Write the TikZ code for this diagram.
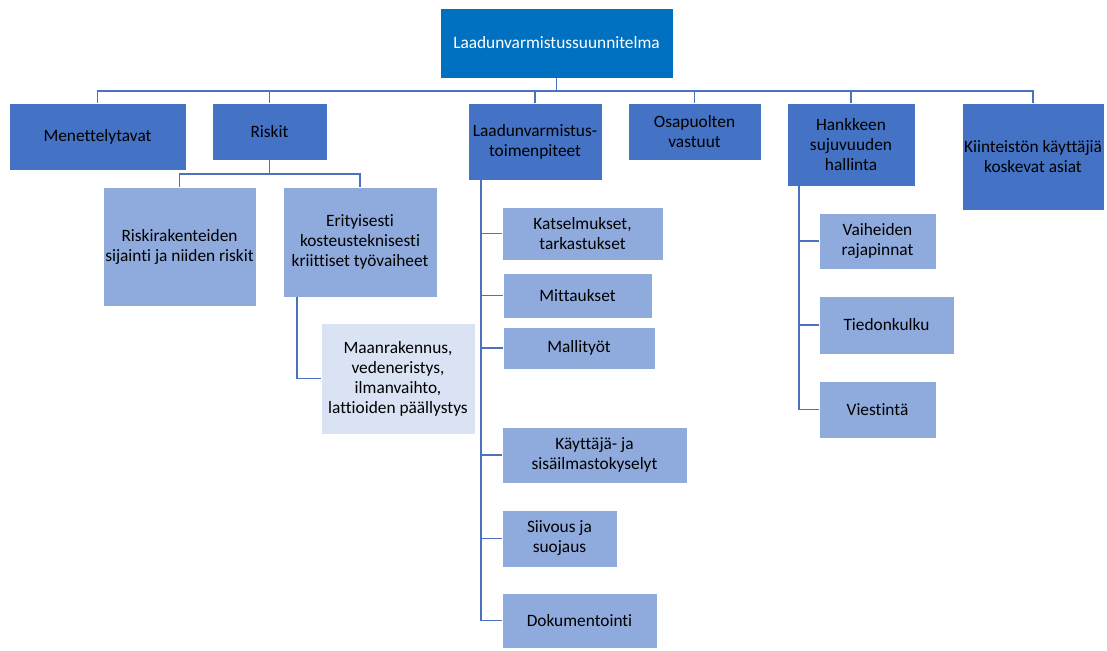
\documentclass[tikz,border=0pt]{standalone}
\usepackage{fontspec}
\setmainfont[Ligatures=NoCommon]{Carlito}
\usetikzlibrary{calc}
\definecolor{TopBlue}{HTML}{0070C0}
\definecolor{MainBlue}{HTML}{4472C4}
\definecolor{SubBlue}{HTML}{8FAADC}
\definecolor{PaleBlue}{HTML}{DAE3F3}
\definecolor{LineBlue}{HTML}{4A72BE}
\tikzset{
  card/.style={
    draw=white, line width=0.5pt, inner sep=1pt, align=center,
    font=\fontsize{13}{15}\selectfont
  },
  topcard/.style={card, fill=TopBlue, text=white},
  maincard/.style={card, fill=MainBlue, text=black},
  subcard/.style={card, fill=SubBlue, text=black},
  palecard/.style={card, fill=PaleBlue, text=black},
  wh/.style 2 args={minimum width=#1*0.75pt, minimum height=#2*0.75pt},
  link/.style={draw=LineBlue, line width=1.3pt}
}

\begin{document}
\begin{tikzpicture}[x=0.75pt,y=-0.75pt]
    \useasboundingbox (0,0) rectangle (1107,650);

    % ylin taso
    \node[topcard,wh={233}{70}] (plan) at (556.5,43) {Laadunvarmistussuunnitelma};

    % toinen taso
    \node[maincard,wh={177}{67}] (menet) at (97.5,136.5) {Menettelytavat};
    \node[maincard,wh={115}{57}] (risk) at (269.5,131.5) {Riskit};
    \node[maincard,wh={134}{77}] (lv) at (535,141.5) {Laadunvarmistus-\\toimenpiteet};
    \node[maincard,wh={133}{57}] (osap) at (694.5,131.5) {Osapuolten\\vastuut};
    \node[maincard,wh={128}{83}] (hank) at (851,144.5) {Hankkeen\\sujuvuuden\\hallinta};
    \node[maincard,wh={142}{107}] (kiint) at (1033,156.5) {Kiinteistön käyttäjiä\\koskevat asiat};

    % riskit
    \node[subcard,wh={153}{119}] (riskirak) at (179.5,246.5) {Riskirakenteiden\\sijainti ja niiden riskit};
    \node[subcard,wh={154}{110}] (erit) at (360,242) {Erityisesti\\kosteusteknisesti\\kriittiset työvaiheet};
    \node[palecard,wh={154}{111}] (maan) at (398,378.5)
      {Maanrakennus,\\vedeneristys,\\ilmanvaihto,\\lattioiden päällystys};

    % toimenpiteet
    \node[subcard,wh={161}{53}] (kats) at (582.5,233.5) {Katselmukset,\\tarkastukset};
    \node[subcard,wh={149}{45}] (mitt) at (577.5,295.5) {Mittaukset};
    \node[subcard,wh={152}{42}] (mall) at (579,348) {Mallityöt};
    \node[subcard,wh={185}{56}] (kaytt) at (594.5,455) {Käyttäjä- ja\\sisäilmastokyselyt};
    \node[subcard,wh={115}{57}] (siiv) at (559.5,538.5) {Siivous ja\\suojaus};
    \node[subcard,wh={155}{55}] (dok) at (579.5,620.5) {Dokumentointi};

    % sujuvuus
    \node[subcard,wh={117}{56}] (vaih) at (877.5,241) {Vaiheiden\\rajapinnat};
    \node[subcard,wh={135}{58}] (tied) at (886.5,325) {Tiedonkulku};
    \node[subcard,wh={117}{57}] (vies) at (877.5,409.5) {Viestintä};

    % yhteydet
    \foreach \n in {menet,risk,lv,osap,hank,kiint}
      \draw[link] (plan.south) -- ++(0,12.5) -| (\n.north);
    \foreach \n in {riskirak,erit}
      \draw[link] (risk.south) -- ++(0,13.5) -| (\n.north);
    \draw[link] ($(erit.south west)+(14,0)$) |- (maan.west);

    \coordinate (lvspine) at ($(lv.south west)+(13,0)$);
    \draw[link] (lvspine) |- (dok.west);
    \foreach \n in {kats,mitt,mall,kaytt,siiv}
      \draw[link] (lvspine |- \n.west) -- (\n.west);

    \coordinate (hankspine) at ($(hank.south west)+(12,0)$);
    \draw[link] (hankspine) |- (vies.west);
    \foreach \n in {vaih,tied}
      \draw[link] (hankspine |- \n.west) -- (\n.west);
  \end{tikzpicture}
\end{document}
